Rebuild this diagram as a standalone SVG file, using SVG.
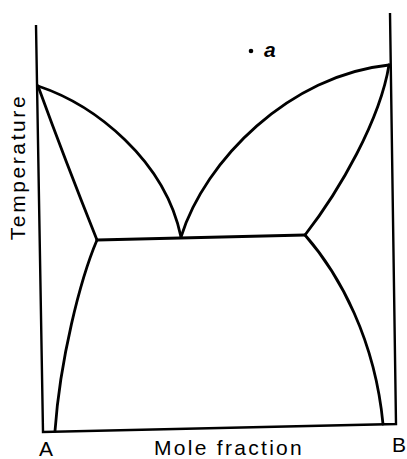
<svg xmlns="http://www.w3.org/2000/svg" width="407" height="459" viewBox="0 0 407 459">
<style>
.ln{fill:none;stroke:#000;stroke-width:2.8;stroke-linecap:round;stroke-linejoin:round}
.ax{fill:none;stroke:#000;stroke-width:2.4}
.lbl{font-family:"Liberation Sans",Arial,sans-serif;font-size:21px;fill:#000}
</style>
<rect width="407" height="459" fill="#fff"/>
<g id="axes">
<path class="ax" d="M36,25 L43,432 L396,424 L390,13"/>
</g>
<g id="connectors">
<path class="ln" d="M38,86 C95,105 165,160 181,237"/>
<path class="ln" d="M181,237 C205,160 290,75 389,65"/>
<path class="ln" d="M38,86 Q65,160 97,240"/>
<path class="ln" d="M389,65 C380,120 340,190 305,235"/>
<path class="ln" d="M97,240 L305,235"/>
<path class="ln" d="M97,240 C80,280 60,360 55,431"/>
<path class="ln" d="M305,235 C340,275 375,340 383,424"/>
</g>
<g id="point-a">
<circle cx="251" cy="51" r="2.3" fill="#000"/>
<text class="lbl" x="264" y="57" font-style="italic" font-weight="bold" font-size="18">a</text>
</g>
<g id="labels">
<text class="lbl" transform="translate(25,167) rotate(-90)" text-anchor="middle" letter-spacing="2.6">Temperature</text>
<text class="lbl" x="229" y="455" text-anchor="middle" letter-spacing="2.3">Mole fraction</text>
<text class="lbl" x="39" y="456">A</text>
<text class="lbl" x="392" y="452">B</text>
</g>
</svg>
